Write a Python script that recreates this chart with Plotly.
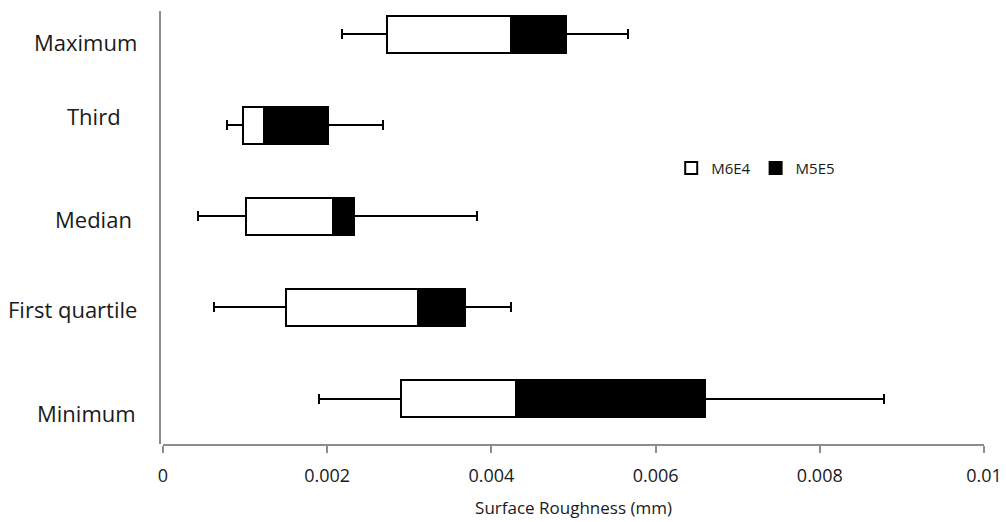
import plotly.graph_objects as go

# Surface roughness summary statistics (mm) for each row
categories = ["Minimum", "First quartile", "Median", "Third", "Maximum"]
whisker_low = [0.00190, 0.00062, 0.00043, 0.00078, 0.00218]
box_start = [0.00290, 0.00150, 0.00101, 0.00098, 0.00273]
box_mid = [0.00430, 0.00310, 0.00207, 0.00123, 0.00424]
box_end = [0.00660, 0.00368, 0.00233, 0.00201, 0.00491]
whisker_high = [0.00878, 0.00424, 0.00383, 0.00268, 0.00566]

series_names = ["M6E4", "M5E5"]
x_tickvals = [0, 0.002, 0.004, 0.006, 0.008, 0.01]
x_ticktext = ["0", "0.002", "0.004", "0.006", "0.008", "0.01"]
x_title = "Surface Roughness (mm)"

FONT = "Open Sans"
TEXT = "#1a1a1a"
AXIS = "#8c8c8c"

# Stacked pieces: invisible offset, lower box, upper box
offset = box_start
lower_part = [m - s for m, s in zip(box_mid, box_start)]
upper_part = [e - m for e, m in zip(box_end, box_mid)]
minus_err = [s - lo for s, lo in zip(box_start, whisker_low)]
plus_err = [hi - e for hi, e in zip(whisker_high, box_end)]

fig = go.Figure()

fig.add_trace(go.Bar(
    y=categories, x=offset, orientation="h",
    marker=dict(color="rgba(0,0,0,0)", line=dict(width=0)),
    error_x=dict(type="data", symmetric=False,
                 array=[0] * len(categories), arrayminus=minus_err,
                 color="black", thickness=2, width=5),
    showlegend=False, hoverinfo="skip",
))

fig.add_trace(go.Bar(
    y=categories, x=lower_part, orientation="h", name=series_names[0],
    marker=dict(color="white", line=dict(color="black", width=2)),
))

fig.add_trace(go.Bar(
    y=categories, x=upper_part, orientation="h", name=series_names[1],
    marker=dict(color="black", line=dict(color="black", width=2)),
    error_x=dict(type="data", symmetric=False,
                 array=plus_err, arrayminus=[0] * len(categories),
                 color="black", thickness=2, width=5),
))

# Row labels placed on the category axis
label_shift = {"Minimum": -14, "First quartile": -2, "Median": -3,
               "Third": 9, "Maximum": -8}
label_pad = {"Minimum": 22, "First quartile": 21, "Median": 26,
             "Third": 37, "Maximum": 21}
for c in categories:
    fig.add_annotation(
        x=0, xref="paper", y=c, yref="y", text=c, showarrow=False,
        xanchor="right", yanchor="middle", xshift=-label_pad[c],
        yshift=label_shift[c],
        font=dict(family=FONT, size=22, color=TEXT),
    )

fig.update_layout(
    width=1006, height=522,
    margin=dict(l=160, r=22, t=11, b=78, autoexpand=False),
    paper_bgcolor="white", plot_bgcolor="white",
    barmode="stack", bargap=0.59,
    font=dict(family=FONT, color=TEXT),
    showlegend=True,
    legend=dict(orientation="h", x=0.6204, y=0.637, xanchor="left",
                yanchor="middle", font=dict(family=FONT, size=15, color=TEXT),
                bgcolor="rgba(0,0,0,0)", itemwidth=30, traceorder="normal"),
    xaxis=dict(
        range=[0, 0.01], domain=[3 / 824, 1], automargin=False,
        tickvals=x_tickvals, ticktext=x_ticktext,
        showgrid=False, zeroline=False,
        showline=True, linecolor=AXIS, linewidth=2,
        ticks="outside", ticklen=7, tickcolor=AXIS, tickwidth=2,
        ticklabelstandoff=7,
        tickfont=dict(family=FONT, size=18, color=TEXT),
        title=dict(text=x_title, standoff=17,
                   font=dict(family=FONT, size=17, color=TEXT)),
    ),
    yaxis=dict(
        type="category", categoryorder="array", categoryarray=categories,
        range=[-0.5, 4.258], anchor="free", position=0, automargin=False,
        showgrid=False, zeroline=False, showticklabels=False,
        showline=True, linecolor=AXIS, linewidth=2, ticks="",
    ),
)

fig.write_html("out.html")
